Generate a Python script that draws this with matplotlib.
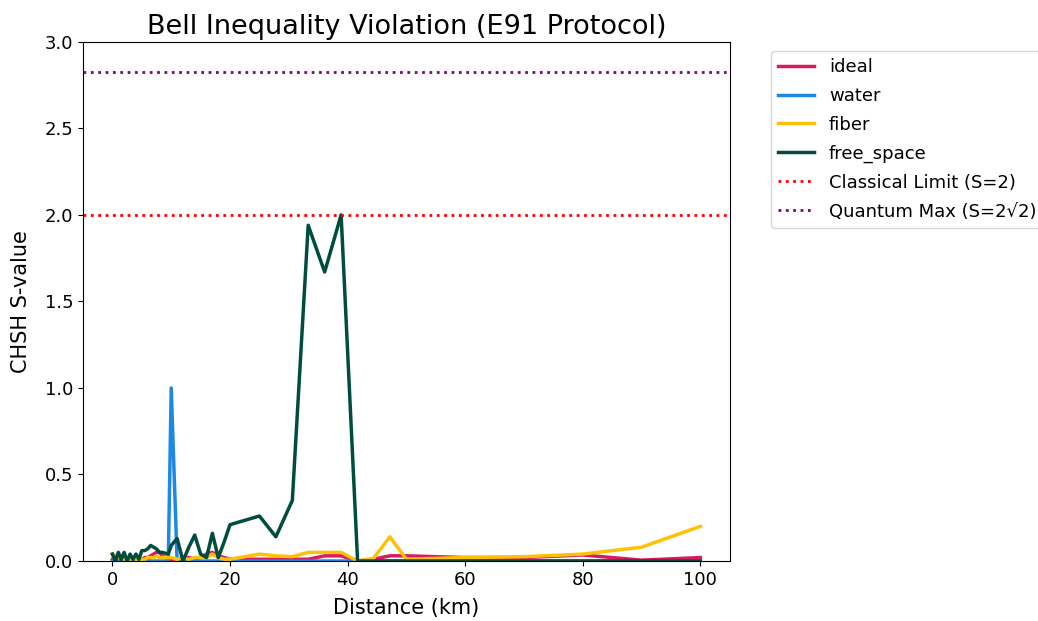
import numpy as np
import matplotlib
matplotlib.use("Agg")
import matplotlib.pyplot as plt

# Distance grid (km)
distance = [0, 0.5, 1, 1.5, 2, 2.5, 3, 3.5, 4, 4.5, 5, 5.5, 6, 6.5, 7, 7.5, 8, 8.5,
            9, 9.5, 10, 11, 12, 13, 14, 15, 16, 17, 18, 19, 20,
            25, 27.8, 30.6, 33.3, 36.1, 38.9, 41.7, 44.4, 47.2, 50,
            60, 70, 80, 90, 100]

# CHSH S-values per channel
s_ideal = [0.01, 0.0, 0.01, 0.0, 0.01, 0.0, 0.01, 0.0, 0.01, 0.01, 0.01, 0.02, 0.02, 0.03, 0.04, 0.05, 0.05, 0.03,
           0.02, 0.01, 0.01, 0.01, 0.02, 0.02, 0.01, 0.02, 0.04, 0.05, 0.03, 0.02, 0.01,
           0.01, 0.01, 0.01, 0.01, 0.03, 0.03, 0.0, 0.01, 0.03, 0.03,
           0.02, 0.02, 0.035, 0.005, 0.02]
s_water = [0.0, 0.0, 0.01, 0.0, 0.0, 0.0, 0.01, 0.0, 0.0, 0.0, 0.0, 0.0, 0.01, 0.0, 0.0, 0.0, 0.0, 0.0,
           0.0, 0.0, 1.0, 0.0, 0.0, 0.0, 0.0, 0.0, 0.0, 0.0, 0.0, 0.0, 0.0,
           0.0, 0.0, 0.0, 0.0, 0.0, 0.0, 0.0, 0.0, 0.0, 0.0,
           0.0, 0.0, 0.0, 0.0, 0.0]
s_fiber = [0.04, 0.03, 0.02, 0.03, 0.01, 0.02, 0.01, 0.02, 0.01, 0.01, 0.01, 0.01, 0.02, 0.02, 0.02, 0.03, 0.02, 0.02,
           0.02, 0.02, 0.02, 0.01, 0.02, 0.01, 0.02, 0.02, 0.02, 0.04, 0.02, 0.01, 0.01,
           0.04, 0.03, 0.025, 0.05, 0.05, 0.05, 0.0, 0.015, 0.14, 0.01,
           0.02, 0.025, 0.04, 0.08, 0.2]
s_free_space = [0.04, 0.0, 0.05, 0.01, 0.05, 0.0, 0.04, 0.01, 0.04, 0.01, 0.06, 0.06, 0.07, 0.09, 0.08, 0.07, 0.05, 0.05,
                0.045, 0.04, 0.09, 0.13, 0.0, 0.08, 0.15, 0.04, 0.02, 0.16, 0.02, 0.11, 0.21,
                0.26, 0.14, 0.35, 1.94, 1.67, 2.0, 0.0, 0.0, 0.0, 0.0,
                0.0, 0.0, 0.0, 0.0, 0.0]

series = [("ideal", s_ideal, "#D81B60"),
          ("water", s_water, "#1E88E5"),
          ("fiber", s_fiber, "#FFC107"),
          ("free_space", s_free_space, "#004D40")]

classical_limit = 2.0
quantum_max = 2 * np.sqrt(2)

fig = plt.figure(figsize=(10.38, 6.21), dpi=100)
ax = fig.add_axes([0.080, 0.0966, 0.623, 0.836])

for name, vals, color in series:
    ax.plot(distance, vals, color=color, linewidth=2.5, label=name)

ax.axhline(classical_limit, color="red", linestyle=":", linewidth=2, label="Classical Limit (S=2)")
ax.axhline(quantum_max, color="purple", linestyle=":", linewidth=2, label="Quantum Max (S=2√2)")

ax.set_ylim(0, 3.0)
ax.set_title("Bell Inequality Violation (E91 Protocol)", fontsize=19.5)
ax.set_xlabel("Distance (km)", fontsize=15, labelpad=7)
ax.set_ylabel("CHSH S-value", fontsize=15, labelpad=10)
ax.tick_params(labelsize=13)
ax.legend(bbox_to_anchor=(1.05, 1), loc="upper left", fontsize=13, labelspacing=0.6)

fig.savefig("out.png", dpi=100)
